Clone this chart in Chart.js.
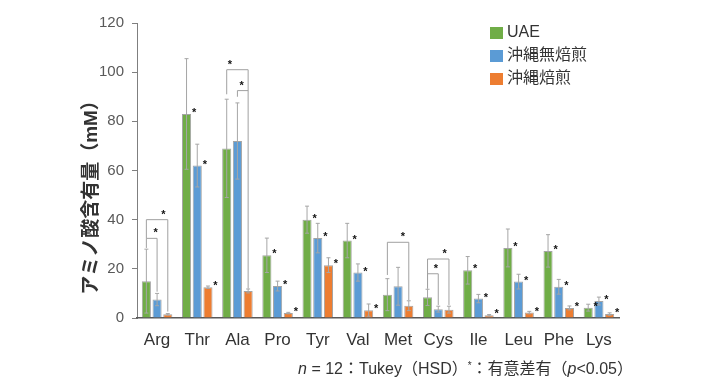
<!DOCTYPE html>
<html>
<head>
<meta charset="utf-8">
<script src="https://cdn.jsdelivr.net/npm/chart.js@4"></script>
<style>
  html, body { margin: 0; padding: 0; background: #ffffff; }
  #wrap { width: 706px; height: 386px; }
</style>
</head>
<body>
<div id="wrap"><canvas id="aminoChart" width="706" height="386"></canvas></div>
<script>
// amino acid content (mM)
const categories = ['Arg', 'Thr', 'Ala', 'Pro', 'Tyr', 'Val', 'Met', 'Cys', 'Ile', 'Leu', 'Phe', 'Lys'];
const seriesNames = ['UAE', '沖縄無焙煎', '沖縄焙煎'];
const uaeValues = [15, 83, 69, 25.5, 40, 31.5, 9.5, 8.4, 19.4, 28.5, 27.3, 4.2];
const rawValues = [7.5, 62, 72, 13, 32.5, 18.5, 12.9, 3.6, 7.9, 14.8, 12.7, 6.9];
const roastValues = [1.5, 12.5, 11, 2, 21.5, 3.2, 5, 3.4, 1.1, 2.2, 4.1, 1.6];
// standard deviations
const uaeErrors = [13, 22.5, 20, 7, 5.5, 7, 6.5, 3.3, 5.6, 7.7, 6.6, 1.4];
const rawErrors = [2.5, 8.7, 15.5, 2, 6, 3.5, 7.7, 1.2, 1.7, 3, 3, 1.6];
const roastErrors = [0.3, 0.5, 0.8, 0.3, 3, 2.5, 2, 1.4, 0.3, 0.5, 0.8, 0.5];
// significance marks next to single bars (1 = *)
const uaeStars = [0, 1, 0, 1, 1, 1, 0, 0, 1, 1, 1, 1];
const rawStars = [0, 1, 0, 1, 1, 1, 0, 0, 1, 1, 1, 1];
const roastStars = [0, 1, 0, 1, 1, 1, 0, 0, 1, 1, 1, 1];
// brackets between bars: category, from series, to series, level, leg ends, star position along bracket
const brackets = [
    { cat: 0, a: 0, b: 2, y: 40, ya: 32.4, yb: 2.6, t: 0.79 },
    { cat: 0, a: 0, b: 1, y: 32.4, ya: 28.5, yb: 10.7, t: 0.87 },
    { cat: 2, a: 0, b: 2, y: 101, ya: 91, yb: 12, t: 0.15 },
    { cat: 2, a: 1, b: 2, y: 92.5, ya: 90, yb: 92.5, t: 0.4 },
    { cat: 6, a: 0, b: 2, y: 30.8, ya: 17.5, yb: 7.3, t: 0.73 },
    { cat: 7, a: 0, b: 2, y: 24, ya: 12, yb: 5.3, t: 0.8 },
    { cat: 7, a: 0, b: 1, y: 18, ya: 12, yb: 5.3, t: 0.77 }
];
const yTicks = [0, 20, 40, 60, 80, 100, 120];
const yTitle = 'アミノ酸含有量（mM）';

const colours = ['#70ad47', '#5b9bd5', '#ed7d31'];
const errors = [uaeErrors, rawErrors, roastErrors];
const stars = [uaeStars, rawStars, roastStars];
const jpFont = '"Liberation Sans", "Noto Sans CJK JP", sans-serif';

const ctx = document.getElementById('aminoChart').getContext('2d');

const chart = new Chart(ctx, {
    type: 'bar',
    data: {
        labels: categories,
        datasets: [uaeValues, rawValues, roastValues].map((vals, i) => ({
            label: seriesNames[i],
            data: vals,
            backgroundColor: colours[i],
            borderColor: 'rgba(90, 90, 90, 0.55)',
            borderWidth: 1,
            categoryPercentage: 0.8,
            barPercentage: 0.85
        }))
    },
    options: {
        responsive: false,
        animation: false,
        layout: { padding: { left: 78, right: 87, top: 23, bottom: 18 } },
        scales: {
            y: {
                min: 0,
                max: 120,
                afterFit: (scale) => { scale.width = 59; },
                afterBuildTicks: (scale) => { scale.ticks = yTicks.map(v => ({ value: v })); },
                grid: { drawOnChartArea: false, drawTicks: true, tickLength: 5, color: '#7f7f7f' },
                border: { display: true, color: '#7f7f7f', width: 1 },
                ticks: { color: '#595959', font: { family: jpFont, size: 15 }, padding: 8 }
            },
            x: {
                afterFit: (scale) => { scale.height = 50; },
                grid: { display: false, drawTicks: false },
                border: { display: true, color: '#595959', width: 1.5 },
                ticks: { color: '#333333', font: { family: jpFont, size: 17 }, padding: 12 }
            }
        },
        plugins: {
            legend: { display: false },
            tooltip: { enabled: false }
        }
    },
    plugins: [{
        id: 'errorBars',
        afterDatasetsDraw: (chart) => {
            const c = chart.ctx;
            const yAxis = chart.scales.y;
            c.save();
            c.strokeStyle = '#a6a6a6';
            c.lineWidth = 1;
            chart.data.datasets.forEach((ds, di) => {
                const meta = chart.getDatasetMeta(di);
                meta.data.forEach((bar, i) => {
                    const v = ds.data[i];
                    const e = errors[di][i];
                    const top = yAxis.getPixelForValue(v + e);
                    const bot = yAxis.getPixelForValue(Math.max(v - e, 0));
                    c.beginPath();
                    c.moveTo(bar.x, top);
                    c.lineTo(bar.x, bot);
                    c.moveTo(bar.x - 2, top);
                    c.lineTo(bar.x + 2, top);
                    c.moveTo(bar.x - 2, bot);
                    c.lineTo(bar.x + 2, bot);
                    c.stroke();
                });
            });
            c.restore();
        }
    }, {
        id: 'significance',
        afterDatasetsDraw: (chart) => {
            const c = chart.ctx;
            const yAxis = chart.scales.y;
            c.save();
            c.fillStyle = '#111111';
            c.font = 'bold 11px ' + jpFont;
            c.textAlign = 'center';
            c.textBaseline = 'middle';
            // stars beside single bars
            chart.data.datasets.forEach((ds, di) => {
                const meta = chart.getDatasetMeta(di);
                meta.data.forEach((bar, i) => {
                    if (!stars[di][i]) return;
                    const right = bar.x + bar.width / 2;
                    c.fillText('*', right + 3, yAxis.getPixelForValue(ds.data[i]) - 1);
                });
            });
            // brackets
            c.strokeStyle = '#a0a0a0';
            c.lineWidth = 1;
            brackets.forEach(b => {
                const xa = chart.getDatasetMeta(b.a).data[b.cat].x;
                const xb = chart.getDatasetMeta(b.b).data[b.cat].x;
                const y = yAxis.getPixelForValue(b.y);
                c.beginPath();
                c.moveTo(xa, yAxis.getPixelForValue(b.ya));
                c.lineTo(xa, y);
                c.lineTo(xb, y);
                c.lineTo(xb, yAxis.getPixelForValue(b.yb));
                c.stroke();
                c.fillText('*', xa + (xb - xa) * b.t, y - 5);
            });
            c.restore();
        }
    }, {
        id: 'legendAndNote',
        afterDraw: (chart) => {
            const c = chart.ctx;
            c.save();
            // y axis title, rotated
            c.translate(92, 193);
            c.rotate(-Math.PI / 2);
            c.font = 'bold 19px ' + jpFont;
            c.fillStyle = '#333333';
            c.textAlign = 'center';
            c.textBaseline = 'middle';
            c.fillText(yTitle, 0, 0);
            c.setTransform(1, 0, 0, 1, 0, 0);
            // legend
            c.font = '16px ' + jpFont;
            c.textBaseline = 'middle';
            c.textAlign = 'left';
            chart.data.datasets.forEach((ds, i) => {
                const y = 33 + i * 23;
                c.fillStyle = ds.backgroundColor;
                c.fillRect(490, y - 6, 13, 12);
                c.fillStyle = '#333333';
                c.fillText(ds.label, 507, y);
            });
            // footnote, right edge at 633
            const parts = [
                ['italic 16px ' + jpFont, 'n', 0],
                ['16px ' + jpFont, ' = 12：Tukey（HSD）', 0],
                ['10px ' + jpFont, '*', -4],
                ['16px ' + jpFont, '：有意差有（', 0],
                ['italic 16px ' + jpFont, 'p', 0],
                ['16px ' + jpFont, '<0.05）', 0]
            ];
            let total = 0;
            parts.forEach(([f, t]) => { c.font = f; total += c.measureText(t).width; });
            let x = 633 - total;
            c.fillStyle = '#333333';
            parts.forEach(([f, t, dy]) => {
                c.font = f;
                c.fillText(t, x, 370 + dy);
                x += c.measureText(t).width;
            });
            c.restore();
        }
    }]
});
</script>
</body>
</html>
